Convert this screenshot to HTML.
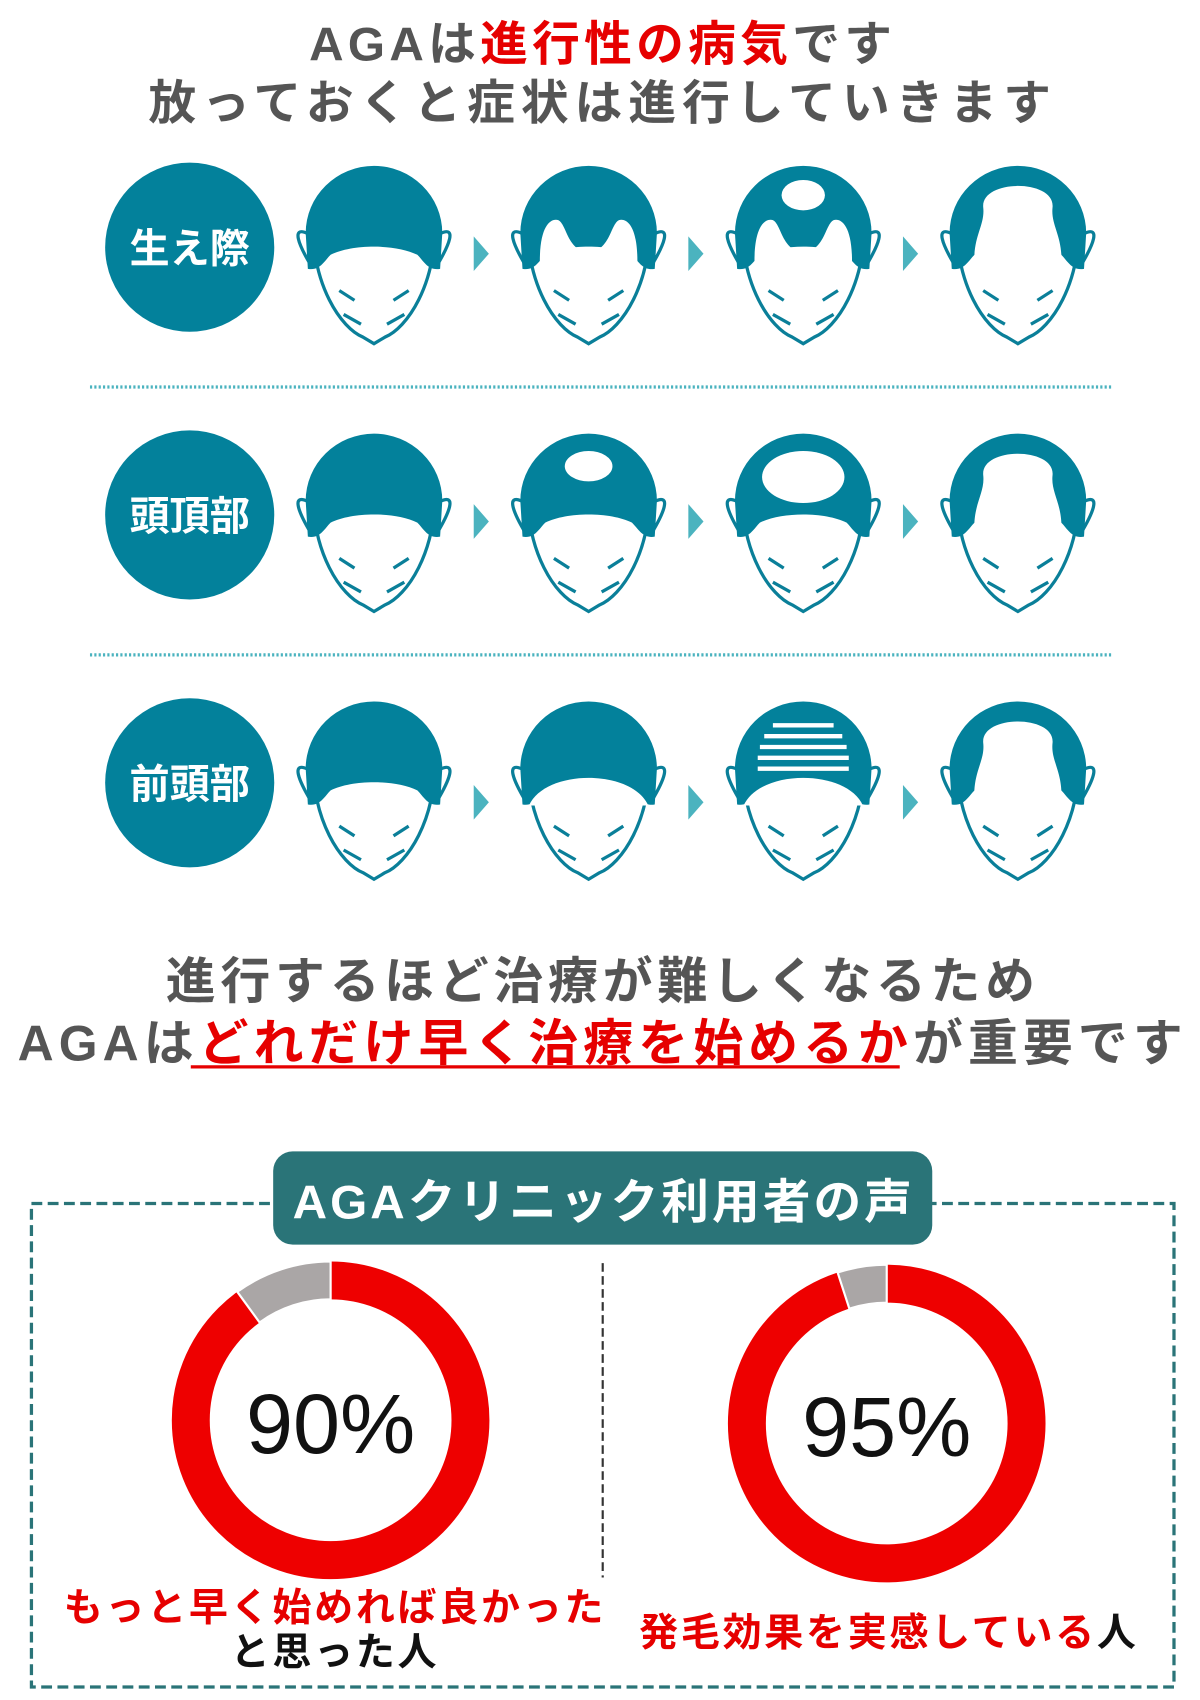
<!DOCTYPE html>
<html><head><meta charset="utf-8"><style>
html,body{margin:0;padding:0;background:#fff;}
svg{display:block}
text{font-family:"Liberation Sans","Noto Sans CJK JP",sans-serif;font-weight:bold}
</style></head><body>
<svg width="1200" height="1700" viewBox="0 0 1107 1568" preserveAspectRatio="none" xmlns="http://www.w3.org/2000/svg">
<defs>
<g id="face">
<path d="M-56 50 C-58 110,-30 150,-10 158 L0 164 L10 158 C30 150,58 110,56 50" fill="#fff" stroke="#0a7f99" stroke-width="3"/>
<path d="M-62 62 C-76 56,-70 72,-58 92 M62 62 C76 56,70 72,58 92" fill="none" stroke="#0a7f99" stroke-width="3"/>
<path d="M-32 115 L-18 124 M-28 137 L-12 146 M32 115 L18 124 M28 137 L12 146" stroke="#0a7f99" stroke-width="3" fill="none"/>
</g>
<g id="dome"><path d="M-63 62 A63 62 0 0 1 63 62 L61 95 C50 97,46 88,40 82 C20 72,-20 72,-40 82 C-46 88,-50 97,-61 95 Z" fill="#03819b"/></g>
<g id="bald"><path d="M-40 92 C-42 65,-30 55,-32 38 C-34 12,34 12,32 38 C30 55,42 65,40 92 Z" fill="#fff"/></g>
<polygon id="arr" points="0,-16 14,0 0,16" fill="#4bb3bf"/>
</defs>

<text x="556" y="56" font-size="44" text-anchor="middle" fill="#555" letter-spacing="4">AGAは<tspan fill="#e60000">進行性の病気</tspan>です</text>
<text x="556" y="110" font-size="44" text-anchor="middle" fill="#555" letter-spacing="5.6">放っておくと症状は進行していきます</text>

<g>
<circle cx="175" cy="228" r="78" fill="#03819b"/><text x="175" y="242" font-size="37" fill="#fff" text-anchor="middle">生え際</text>
<circle cx="175" cy="475" r="78" fill="#03819b"/><text x="175" y="489" font-size="37" fill="#fff" text-anchor="middle">頭頂部</text>
<circle cx="175" cy="722" r="78" fill="#03819b"/><text x="175" y="736" font-size="37" fill="#fff" text-anchor="middle">前頭部</text>
</g>
<line x1="83" y1="357" x2="1027" y2="357" stroke="#4bb3bf" stroke-width="3" stroke-dasharray="2 2"/>
<line x1="83" y1="604" x2="1027" y2="604" stroke="#4bb3bf" stroke-width="3" stroke-dasharray="2 2"/>

<!-- row 1 -->
<g transform="translate(345,153)"><use href="#face"/><use href="#dome"/></g>
<g transform="translate(543,153)"><use href="#face"/><use href="#dome"/><path d="M-45 88 C-45 55,-35 48,-28 50 C-20 54,-20 78,0 80 C20 78,20 54,28 50 C35 48,45 55,45 88Z" fill="#fff"/></g>
<g transform="translate(741,153)"><use href="#face"/><use href="#dome"/><path d="M-45 88 C-45 55,-35 48,-28 50 C-20 54,-20 78,0 80 C20 78,20 54,28 50 C35 48,45 55,45 88Z" fill="#fff"/><ellipse cx="0" cy="27" rx="20" ry="14" fill="#fff"/></g>
<g transform="translate(939,153)"><use href="#face"/><use href="#dome"/><use href="#bald"/></g>
<use href="#arr" x="437" y="234"/><use href="#arr" x="635" y="234"/><use href="#arr" x="833" y="234"/>

<!-- row 2 -->
<g transform="translate(345,400)"><use href="#face"/><use href="#dome"/></g>
<g transform="translate(543,400)"><use href="#face"/><use href="#dome"/><ellipse cx="0" cy="30" rx="22" ry="14" fill="#fff"/></g>
<g transform="translate(741,400)"><use href="#face"/><use href="#dome"/><ellipse cx="0" cy="40" rx="38" ry="24" fill="#fff"/></g>
<g transform="translate(939,400)"><use href="#face"/><use href="#dome"/><use href="#bald"/></g>
<use href="#arr" x="437" y="481"/><use href="#arr" x="635" y="481"/><use href="#arr" x="833" y="481"/>

<!-- row 3 -->
<g transform="translate(345,647)"><use href="#face"/><use href="#dome"/></g>
<g transform="translate(543,647)"><use href="#face"/><use href="#dome"/><path d="M-55 96 C-40 62,40 62,55 96Z" fill="#fff"/></g>
<g transform="translate(741,647)"><use href="#face"/><use href="#dome"/><path d="M-55 96 C-40 62,40 62,55 96Z" fill="#fff"/>
<g stroke="#fff" stroke-width="4"><line x1="-28" y1="22" x2="28" y2="22"/><line x1="-36" y1="32" x2="36" y2="32"/><line x1="-40" y1="42" x2="40" y2="42"/><line x1="-42" y1="52" x2="42" y2="52"/><line x1="-42" y1="62" x2="42" y2="62"/></g></g>
<g transform="translate(939,647)"><use href="#face"/><use href="#dome"/><use href="#bald"/></g>
<use href="#arr" x="437" y="740"/><use href="#arr" x="635" y="740"/><use href="#arr" x="833" y="740"/>

<text x="556" y="921" font-size="46" text-anchor="middle" fill="#555" letter-spacing="4.4">進行するほど治療が難しくなるため</text>
<text x="556" y="978" font-size="46" text-anchor="middle" fill="#555" letter-spacing="4.7">AGAは<tspan fill="#e60000">どれだけ早く治療を始めるか</tspan>が重要です</text>
<line x1="176" y1="984" x2="830" y2="984" stroke="#e60000" stroke-width="3"/>

<rect x="29" y="1110" width="1054" height="446" fill="none" stroke="#2a7478" stroke-width="3" stroke-dasharray="10 5"/>
<rect x="252" y="1062" width="608" height="86" rx="18" fill="#2a7478"/>
<text x="557" y="1124" font-size="44" fill="#fff" text-anchor="middle" letter-spacing="2.8">AGAクリニック利用者の声</text>
<line x1="556" y1="1165" x2="556" y2="1455" stroke="#333" stroke-width="2" stroke-dasharray="8 4"/>

<g transform="translate(305,1310)">
<circle r="129" fill="none" stroke="#ee0000" stroke-width="35"/>
<path d="M0 -146.5 L0 -111.5 A111.5 111.5 0 0 0 -65.5 -90.2 L-86.1 -118.5 A146.5 146.5 0 0 1 0 -146.5Z" fill="#aaa6a6" stroke="#fff" stroke-width="2"/>
<text x="0" y="30" font-size="78" text-anchor="middle" fill="#111" style="font-weight:normal">90%</text>
</g>
<g transform="translate(818,1313)">
<circle r="129" fill="none" stroke="#ee0000" stroke-width="35"/>
<path d="M0 -146.5 L0 -111.5 A111.5 111.5 0 0 0 -34.5 -106 L-45.3 -139.3 A146.5 146.5 0 0 1 0 -146.5Z" fill="#aaa6a6" stroke="#fff" stroke-width="2"/>
<text x="0" y="30" font-size="78" text-anchor="middle" fill="#111" style="font-weight:normal">95%</text>
</g>

<text x="309" y="1495" font-size="36" text-anchor="middle" fill="#e60000" letter-spacing="2.5">もっと早く始めれば良かった</text>
<text x="309" y="1536" font-size="36" text-anchor="middle" fill="#111" letter-spacing="2.5">と思った人</text>
<text x="820" y="1518" font-size="36" text-anchor="middle" fill="#e60000" letter-spacing="2.5">発毛効果を実感している<tspan fill="#111">人</tspan></text>
</svg>
</body></html>
